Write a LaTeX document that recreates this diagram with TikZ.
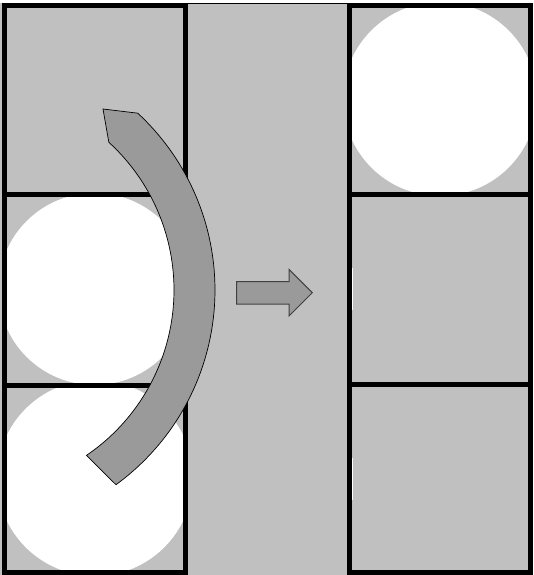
\documentclass[tikz,border=0pt]{standalone}
\begin{document}
\begin{tikzpicture}[x=1pt,y=-1pt]
\definecolor{bg}{HTML}{C0C0C0}
\definecolor{arrowfill}{HTML}{9A9A9A}
\definecolor{arrowline}{HTML}{404040}
\tikzset{
  cellline/.style={draw=black, line width=5pt},
  disc/.style={fill=white},
  bigarrow/.style={fill=arrowfill, draw=black, line width=0.7pt, line join=miter},
  smallarrow/.style={fill=arrowfill, draw=arrowline, line width=1pt}
}
\useasboundingbox (0,0) rectangle (533,575);
\fill[white] (0,0) rectangle (533,575);
\fill[bg] (0,3) rectangle (533,575);
% discs clipped to their cells
\begin{scope}\clip (6,196) rectangle (183,382); \fill[disc] (94.5,289) circle (96); \end{scope}
\begin{scope}\clip (6,387) rectangle (183,570); \fill[disc] (95,478) circle (98); \end{scope}
\begin{scope}\clip (352,8) rectangle (528,191); \fill[disc] (440,99) circle (97); \end{scope}
% left column
\draw[cellline] (4,5.5) rectangle (185,572.5);
\draw[cellline] (4,194) -- (185,194);
\draw[cellline] (4,385) -- (185,385);
% right column
\draw[cellline] (349.5,5.5) rectangle (530,572.5);
\draw[cellline] (349.5,194) -- (530,194);
\draw[cellline] (349.5,384) -- (530,384);
% thin top edge of middle strip
\draw[black, line width=0.8pt] (185,3.4) -- (349.5,3.4);
% small white marks
\draw[white, line width=1pt] (352.5,268) -- (352.5,310);
\draw[white, line width=1pt] (352.5,458) -- (352.5,500);
% curved arrow
\draw[bigarrow]
  plot[domain=53.9:-47.2, samples=80] ({-26+241*cos(\x)}, {290+241*sin(\x)})
  -- (103,109)
  -- plot[domain=-47.6:55.8, samples=80] ({-26+200*cos(\x)}, {290+200*sin(\x)})
  -- cycle;
% straight arrow
\draw[smallarrow] (236.7,281.7) -- (289,281.7) -- (289,269.3) -- (312.3,292.7)
  -- (289,316) -- (289,304) -- (236.7,304) -- cycle;
\end{tikzpicture}
\end{document}
